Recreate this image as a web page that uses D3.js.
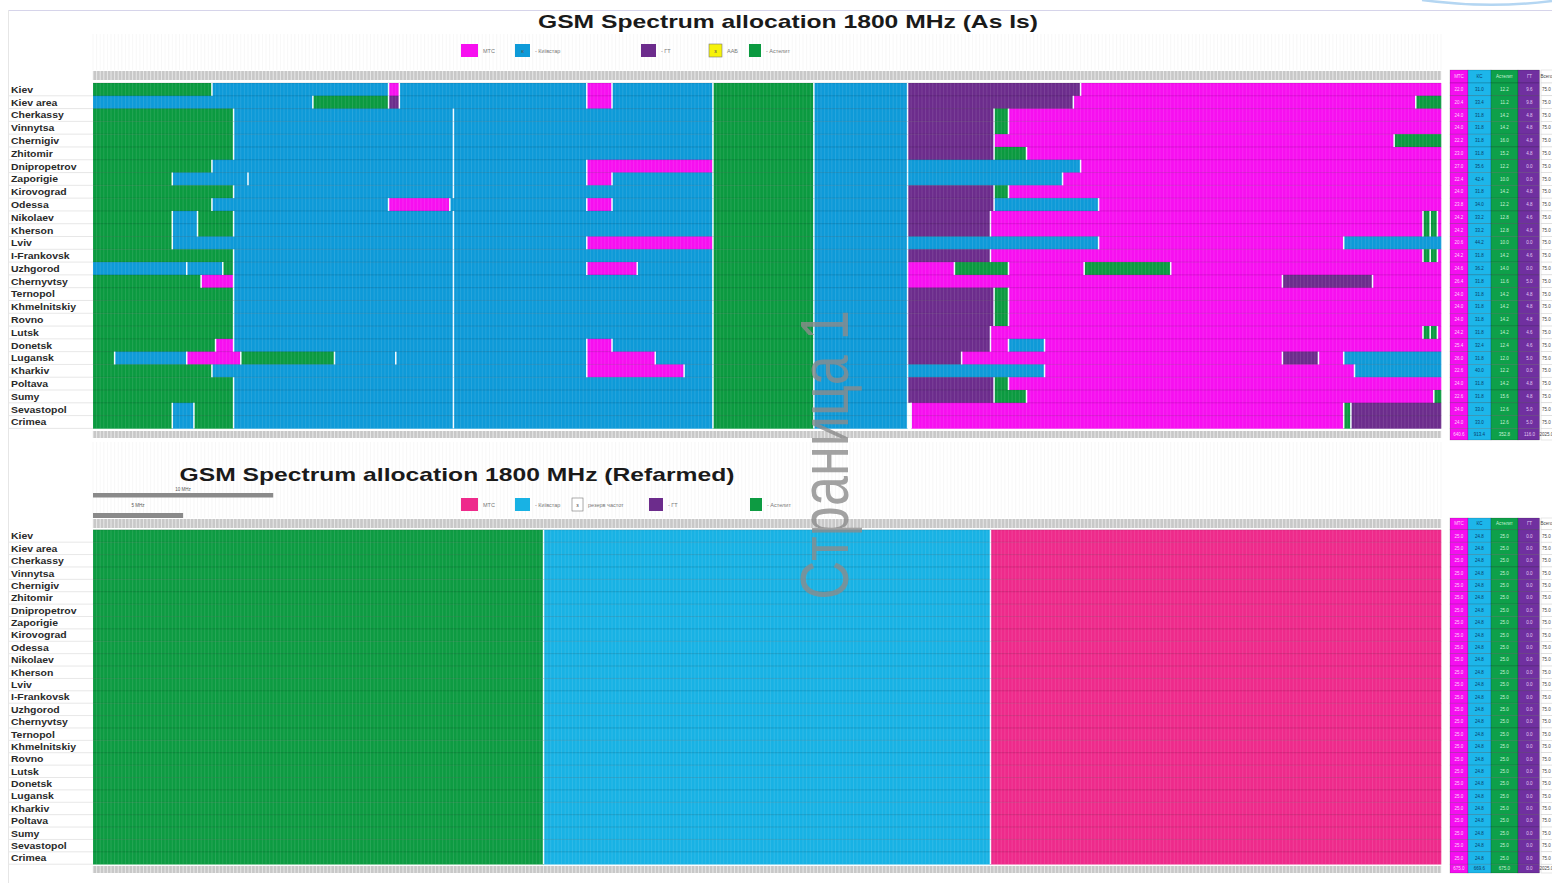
<!DOCTYPE html>
<html>
<head>
<meta charset="utf-8">
<script src="https://d3js.org/d3.v7.min.js"></script>
<style>
  body { margin: 0; background: #fff; }
  svg { display: block; font-family: "Liberation Sans", Arial, sans-serif; }
</style>
</head>
<body>
<div id="chart"></div>
<script>
// ---- data ----
var regions = ["Kiev", "Kiev area", "Cherkassy", "Vinnytsa", "Chernigiv", "Zhitomir", "Dnipropetrov",
  "Zaporigie", "Kirovograd", "Odessa", "Nikolaev", "Kherson", "Lviv", "I-Frankovsk", "Uzhgorod",
  "Chernyvtsy", "Ternopol", "Khmelnitskiy", "Rovno", "Lutsk", "Donetsk", "Lugansk", "Kharkiv",
  "Poltava", "Sumy", "Sevastopol", "Crimea"];

// operator codes: M = MTS, K = Kyivstar, A = Astelit, G = GT, W = free
var channelRange = [512, 886];   // ARFCN 512..885

// As Is: channels 512..684 (row specific)
var asIsLeft = [
  [["A",512,545],["K",545,594],["M",594,597],["K",597,649],["M",649,656],["K",656,684]],
  [["K",512,573],["A",573,594],["G",594,597],["K",597,649],["M",649,656],["K",656,684]],
  [["A",512,551],["K",551,612],["K",612,684]],
  [["A",512,551],["K",551,612],["K",612,684]],
  [["A",512,551],["K",551,612],["K",612,684]],
  [["A",512,551],["K",551,612],["K",612,684]],
  [["A",512,545],["K",545,612],["K",612,649],["M",649,684]],
  [["A",512,534],["K",534,555],["K",555,612],["K",612,649],["M",649,656],["K",656,684]],
  [["A",512,551],["K",551,612],["K",612,684]],
  [["A",512,545],["K",545,594],["M",594,611],["K",611,649],["M",649,656],["K",656,684]],
  [["A",512,534],["K",534,541],["A",541,551],["K",551,612],["K",612,684]],
  [["A",512,534],["K",534,541],["A",541,551],["K",551,612],["K",612,684]],
  [["A",512,534],["K",534,612],["K",612,649],["M",649,684]],
  [["A",512,551],["K",551,612],["K",612,684]],
  [["K",512,538],["K",538,548],["A",548,551],["K",551,612],["K",612,649],["M",649,663],["K",663,684]],
  [["A",512,542],["M",542,551],["K",551,612],["K",612,684]],
  [["A",512,551],["K",551,612],["K",612,684]],
  [["A",512,551],["K",551,612],["K",612,684]],
  [["A",512,551],["K",551,612],["K",612,684]],
  [["A",512,551],["K",551,612],["K",612,684]],
  [["A",512,546],["M",546,551],["K",551,612],["K",612,649],["M",649,656],["K",656,684]],
  [["A",512,518],["K",518,538],["M",538,553],["A",553,579],["K",579,596],["K",596,612],["K",612,649],["M",649,668],["K",668,684]],
  [["A",512,545],["K",545,612],["K",612,649],["M",649,676],["K",676,684]],
  [["A",512,551],["K",551,612],["K",612,684]],
  [["A",512,551],["K",551,612],["K",612,684]],
  [["A",512,534],["K",534,540],["A",540,551],["K",551,612],["K",612,684]],
  [["A",512,534],["K",534,540],["A",540,551],["K",551,612],["K",612,684]]
];

// As Is: channels 684..738, the same in every region
var commonBand = [["A",684,712],["K",712,738]];

// As Is: channels 738..886 (row specific)
var asIsRight = [
  [["G",738,786],["M",786,886]],
  [["G",738,784],["M",784,879],["A",879,886]],
  [["G",738,762],["A",762,766],["M",766,886]],
  [["G",738,762],["A",762,766],["M",766,886]],
  [["G",738,762],["M",762,873],["A",873,886]],
  [["G",738,762],["A",762,771],["M",771,886]],
  [["K",738,786],["M",786,886]],
  [["K",738,781],["M",781,886]],
  [["G",738,762],["A",762,766],["M",766,886]],
  [["G",738,762],["K",762,791],["M",791,886]],
  [["G",738,761],["M",761,881],["A",881,883],["A",883,885],["M",885,886]],
  [["G",738,761],["M",761,881],["A",881,883],["A",883,885],["M",885,886]],
  [["K",738,791],["M",791,859],["K",859,886]],
  [["G",738,761],["M",761,881],["A",881,883],["A",883,885],["M",885,886]],
  [["M",738,751],["A",751,766],["M",766,787],["A",787,811],["M",811,886]],
  [["M",738,842],["G",842,867],["M",867,886]],
  [["G",738,762],["A",762,766],["M",766,886]],
  [["G",738,762],["A",762,766],["M",766,886]],
  [["G",738,762],["A",762,766],["M",766,886]],
  [["G",738,761],["M",761,881],["A",881,883],["A",883,885],["M",885,886]],
  [["G",738,761],["M",761,766],["K",766,776],["M",776,886]],
  [["G",738,753],["M",753,842],["G",842,852],["M",852,859],["K",859,886]],
  [["K",738,776],["M",776,862],["K",862,886]],
  [["G",738,762],["A",762,766],["M",766,886]],
  [["G",738,762],["A",762,771],["M",771,884],["A",884,886]],
  [["W",738,739],["M",739,859],["A",859,861],["G",861,886]],
  [["W",738,739],["M",739,859],["A",859,861],["G",861,886]]
];

// Refarmed: same plan in every region
var refarmedPlan = [["A",512,637],["K",637,761],["M",761,886]];

// side tables, MHz per operator: MTS, Kyivstar, Astelit, GT
var tableHead = ["МТС", "КС", "Астелит", "ГТ", "Всего"];
var asIsMTS = [22.0,20.4,24.0,24.0,22.2,23.0,27.0,22.4,24.0,23.8,24.2,24.2,20.6,24.2,24.6,26.4,24.0,24.0,24.0,24.2,25.4,26.0,22.6,24.0,22.6,24.0,24.0];
var asIsKS  = [31.0,33.4,31.8,31.8,31.8,31.8,35.6,42.4,31.8,34.0,33.2,33.2,44.2,31.8,36.2,31.8,31.8,31.8,31.8,31.8,32.4,31.8,40.0,31.8,31.8,33.0,33.0];
var asIsAst = [12.2,11.2,14.2,14.2,16.0,15.2,12.2,10.0,14.2,12.2,12.8,12.8,10.0,14.2,14.0,11.6,14.2,14.2,14.2,14.2,12.4,12.0,12.2,14.2,15.6,12.6,12.6];
var asIsGT  = [9.6,9.8,4.8,4.8,4.8,4.8,0,0,4.8,4.8,4.6,4.6,0,4.6,0,5.0,4.8,4.8,4.8,4.6,4.6,5.0,0,4.8,4.8,5.0,5.0];
var asIsTotals = [640.6, 913.4, 352.8, 116.0, 2025];
var refMTS = 25.0, refKS = 24.8, refAst = 25.0, refGT = 0;
var refTotals = [675.0, 669.6, 675.0, 0, 2025];

var legendTop = [
  {op: "M", label: "МТС", x: 461, w: 17},
  {op: "K", label: "- Київстар", x: 515, w: 15, mark: "к"},
  {op: "G", label: "-  ГТ", x: 641, w: 15},
  {op: "Y", label: "ААБ", x: 709, w: 13, mark: "з"},
  {op: "A", label: "- Астелит", x: 749, w: 12}
];
var legendBottom = [
  {op: "M", label: "МТС", x: 461, w: 17},
  {op: "K", label: "- Київстар", x: 515, w: 15},
  {op: "W", label: "резерв частот", x: 572, w: 11, mark: "з"},
  {op: "G", label: "- ГТ", x: 649, w: 14},
  {op: "A", label: "- Астелит", x: 750, w: 12}
];

var colorsAsIs = {M: "#f70ff0", K: "#0e9ad8", A: "#0b9a40", G: "#6c2c8c", W: "#ffffff", Y: "#f6f20a"};
var colorsRef  = {M: "#ee2a8b", K: "#18b2e4", A: "#0d9b42", G: "#6c2c8c", W: "#ffffff", Y: "#f6f20a"};
var tableColors = ["#f50ff0", "#1db6ea", "#0ea04a", "#7030a0", "#ffffff"];
var tableText   = ["#ffd6fb", "#0b3d6b", "#c9f2d6", "#e0c8f2", "#444"];

// ---- drawing ----
var W = 1552, H = 883;
var svg = d3.select("#chart").append("svg").attr("width", W).attr("height", H);

var x = d3.scaleLinear().domain(channelRange).range([93, 1441]);
var channels = d3.range(channelRange[0], channelRange[1] + 1);

// page frame
svg.append("path").attr("d", "M1422,0 Q1488,9 1552,1").attr("fill", "none")
  .attr("stroke", "#b4d6f2").attr("stroke-width", 2.5);
svg.append("line").attr("x1", 8).attr("x2", W).attr("y1", 10.5).attr("y2", 10.5)
  .attr("stroke", "#d6d4ea");
svg.append("line").attr("x1", 8.5).attr("x2", 8.5).attr("y1", 10).attr("y2", H)
  .attr("stroke", "#e6e6e6");

// faint spreadsheet grid in empty areas
function faintGrid(y0, y1) {
  var p = d3.path();
  channels.forEach(function(c) { p.moveTo(x(c), y0); p.lineTo(x(c), y1); });
  svg.append("path").attr("d", p.toString()).attr("stroke", "#efefef").attr("stroke-width", 0.5);
}
faintGrid(34, 70);
faintGrid(442, 518);

function drawPanel(opt) {
  var y = d3.scaleBand().domain(regions).range([opt.y0, opt.y1]);
  var g = svg.append("g");
  var bw = y.bandwidth();

  // label column
  regions.forEach(function(r) {
    g.append("line").attr("x1", 9).attr("x2", 93).attr("y1", y(r) + bw).attr("y2", y(r) + bw)
      .attr("stroke", "#dcdcdc").attr("stroke-width", 0.7);
  });
  g.append("g").attr("transform", "translate(11,0) scale(1.1,1)")
    .selectAll("text").data(regions).join("text")
    .attr("x", 0).attr("y", function(d) { return y(d) + bw / 2; })
    .attr("dy", "0.36em").attr("font-size", 9.5).attr("font-weight", "bold")
    .attr("fill", "#2a2a2a").text(function(d) { return d; });

  // header / footer strips
  [[opt.headY, 9], [opt.footY, 7]].forEach(function(b) {
    g.append("rect").attr("x", 93).attr("y", b[0]).attr("width", 1348).attr("height", b[1])
      .attr("fill", "#c8c8c8");
    var p = d3.path();
    channels.forEach(function(c) { p.moveTo(x(c), b[0]); p.lineTo(x(c), b[0] + b[1]); });
    g.append("path").attr("d", p.toString()).attr("stroke", "#f0f0f0").attr("stroke-width", 0.8);
  });

  // cells
  var cells = [];
  opt.rows.forEach(function(segs, i) {
    segs.forEach(function(s, j) {
      cells.push({r: regions[i], op: s[0], a: s[1], b: s[2], first: j === 0});
    });
  });
  g.append("g").selectAll("rect").data(cells).join("rect")
    .attr("x", function(d) { return x(d.a); })
    .attr("y", function(d) { return y(d.r); })
    .attr("width", function(d) { return x(d.b) - x(d.a) + 0.3; })
    .attr("height", bw + 0.3)
    .attr("fill", function(d) { return opt.palette[d.op]; });

  // fine cell grid
  var gp = d3.path();
  channels.forEach(function(c) { gp.moveTo(x(c), opt.y0); gp.lineTo(x(c), opt.y1); });
  g.append("path").attr("d", gp.toString()).attr("stroke", "rgba(255,255,255,0.22)").attr("stroke-width", 0.5);
  var hp = d3.path();
  regions.forEach(function(r) { hp.moveTo(93, y(r)); hp.lineTo(1441, y(r)); });
  g.append("path").attr("d", hp.toString()).attr("stroke", "rgba(0,0,0,0.22)").attr("stroke-width", 0.6);

  // white guard lines between blocks
  g.append("g").selectAll("line").data(cells.filter(function(d) { return !d.first; })).join("line")
    .attr("x1", function(d) { return x(d.a); }).attr("x2", function(d) { return x(d.a); })
    .attr("y1", function(d) { return y(d.r); }).attr("y2", function(d) { return y(d.r) + bw; })
    .attr("stroke", "#f4fbff").attr("stroke-width", 1.5);

  // side table
  var cx = [1450, 1468, 1491, 1518, 1541, 1566];
  var tRows = [{y: opt.headY - 1, h: opt.y0 - opt.headY + 1, v: tableHead}];
  regions.forEach(function(r, i) { tRows.push({y: y(r), h: bw, v: opt.table[i]}); });
  tRows.push({y: opt.y1, h: opt.tableFoot - opt.y1, v: opt.totals});
  var tg = g.append("g");
  tRows.forEach(function(row) {
    row.v.forEach(function(v, k) {
      tg.append("rect").attr("x", cx[k]).attr("y", row.y).attr("width", cx[k + 1] - cx[k] - (k === 3 ? 1.5 : 0))
        .attr("height", row.h).attr("fill", tableColors[k])
        .attr("stroke", k === 4 ? "#cfcfcf" : "rgba(0,0,0,0.3)").attr("stroke-width", 0.5);
      tg.append("text").attr("x", (cx[k] + cx[k + 1] - (k === 4 ? 14 : 0)) / 2).attr("y", row.y + row.h / 2)
        .attr("dy", "0.35em").attr("text-anchor", "middle").attr("font-size", 4.5)
        .attr("fill", tableText[k]).text(typeof v === "number" ? v.toFixed(1) : v);
    });
  });
}

var asIsRows = asIsLeft.map(function(l, i) { return l.concat(commonBand, asIsRight[i]); });
var asIsTable = regions.map(function(r, i) { return [asIsMTS[i], asIsKS[i], asIsAst[i], asIsGT[i], 75]; });
drawPanel({rows: asIsRows, y0: 83, y1: 428.4, headY: 71, footY: 431, palette: colorsAsIs,
  table: asIsTable, totals: asIsTotals, tableFoot: 440});

var refRows = regions.map(function() { return refarmedPlan; });
var refTable = regions.map(function() { return [refMTS, refKS, refAst, refGT, 75]; });
drawPanel({rows: refRows, y0: 529.8, y1: 864.2, headY: 519, footY: 866, palette: colorsRef,
  table: refTable, totals: refTotals, tableFoot: 873});

// titles
svg.append("text").attr("x", 788).attr("y", 28).attr("text-anchor", "middle")
  .attr("font-size", 19).attr("font-weight", "bold").attr("fill", "#1a1a1a")
  .attr("textLength", 500).attr("lengthAdjust", "spacingAndGlyphs")
  .text("GSM Spectrum allocation 1800 MHz (As Is)");
svg.append("text").attr("x", 457).attr("y", 481).attr("text-anchor", "middle")
  .attr("font-size", 19).attr("font-weight", "bold").attr("fill", "#1a1a1a")
  .attr("textLength", 555).attr("lengthAdjust", "spacingAndGlyphs")
  .text("GSM Spectrum allocation 1800 MHz (Refarmed)");

// legends
function legend(items, y0, palette) {
  var lg = svg.append("g");
  items.forEach(function(d) {
    lg.append("rect").attr("x", d.x).attr("y", y0).attr("width", d.w).attr("height", 13)
      .attr("fill", palette[d.op]).attr("stroke", d.op === "W" || d.op === "Y" ? "#777" : "none")
      .attr("stroke-width", 0.6);
    if (d.mark) lg.append("text").attr("x", d.x + d.w / 2).attr("y", y0 + 9).attr("text-anchor", "middle")
      .attr("font-size", 6).attr("fill", "#555").text(d.mark);
    lg.append("text").attr("x", d.x + d.w + 5).attr("y", y0 + 8.5).attr("font-size", 5.5)
      .attr("fill", "#777").text(d.label);
  });
}
legend(legendTop, 44, colorsAsIs);
legend(legendBottom, 498, colorsRef);

// scale bars
svg.append("rect").attr("x", x(512)).attr("y", 493).attr("width", x(562) - x(512)).attr("height", 4.5).attr("fill", "#8a8a8a");
svg.append("text").attr("x", (x(512) + x(562)) / 2).attr("y", 491).attr("text-anchor", "middle")
  .attr("font-size", 4.5).attr("fill", "#555").text("10 MHz");
svg.append("rect").attr("x", x(512)).attr("y", 513).attr("width", x(537) - x(512)).attr("height", 5).attr("fill", "#8a8a8a");
svg.append("text").attr("x", (x(512) + x(537)) / 2).attr("y", 507).attr("text-anchor", "middle")
  .attr("font-size", 4.5).attr("fill", "#555").text("5 MHz");

// page watermark
svg.append("text").attr("transform", "translate(848,455) rotate(-90) scale(1,1.28)")
  .attr("text-anchor", "middle").attr("font-size", 54).attr("fill", "#8c8c8c").attr("opacity", 0.8)
  .text("Страница 1");
</script>
</body>
</html>
